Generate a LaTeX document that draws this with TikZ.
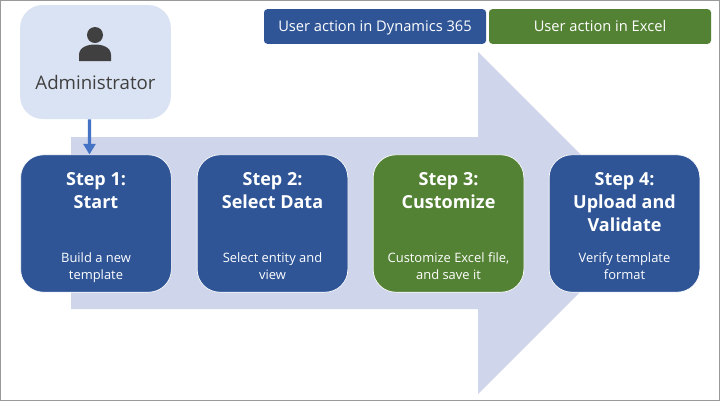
\documentclass[tikz,border=0pt]{standalone}
\usepackage{fontspec}
\setmainfont{Open Sans}
\usetikzlibrary{positioning,arrows.meta}
\definecolor{dynblue}{HTML}{2F5597}
\definecolor{xlgreen}{HTML}{548235}
\definecolor{adminfill}{HTML}{DAE3F3}
\definecolor{bigarrow}{HTML}{CFD5EA}
\definecolor{arrowblue}{HTML}{4472C4}
\definecolor{icongray}{HTML}{404040}
\tikzset{
  stepbox/.style={draw=white, line width=0.5pt, rounded corners=17pt, minimum width=113pt, minimum height=103pt, inner sep=0pt},
  steptitle/.style={text=white, font=\fontsize{13.5}{17.2}\selectfont\bfseries, align=center, inner sep=0pt},
  stepnote/.style={text=white, font=\fontsize{9.7}{12.75}\selectfont, align=center, inner sep=0pt, text depth=0pt},
  legendbox/.style={rounded corners=2.5pt, minimum width=166.5pt, minimum height=26pt, inner sep=0pt, text=white, text height=9.4pt, text depth=2.4pt, font=\fontsize{11}{13}\selectfont}
}
\begin{document}
\begin{tikzpicture}[x=0.75pt,y=-0.75pt]
\useasboundingbox (0,0) rectangle (720,401);
\fill[white] (0,0) rectangle (720,401);
\draw[gray!80, line width=1pt] (0.5,0.5) rectangle (719.5,400.5);

\fill[bigarrow] (71,137) -- (478,137) -- (478,52) -- (649,223) -- (478,394) -- (478,309) -- (71,309) -- cycle;

\node[rounded corners=17pt, fill=adminfill, minimum width=113pt, minimum height=85.5pt, inner sep=0pt] (admin) at (95.5,62) {};
\node[text=icongray, font=\fontsize{14}{17}\selectfont, inner sep=0pt] (adminlabel) at (95.5,82.5) {Administrator};
\fill[icongray] (95,35) circle (8);
\fill[icongray] (79,61) -- (79,55) .. controls (79,47) and (88,44.5) .. (95,44.5) .. controls (102,44.5) and (111,47) .. (111,55) -- (111,61) -- cycle;

\node[stepbox, fill=dynblue] (step1) at (96,223.5) {};
\node[stepbox, fill=dynblue] (step2) at (272.5,223.5) {};
\node[stepbox, fill=xlgreen] (step3) at (448.5,223.5) {};
\node[stepbox, fill=dynblue] (step4) at (624.5,223.5) {};

\node[steptitle, below=13.5pt of step1.north] (title1) {Step 1:\\Start};
\node[steptitle, below=13.5pt of step2.north] (title2) {Step 2:\\Select Data};
\node[steptitle, below=13.5pt of step3.north] (title3) {Step 3:\\Customize};
\node[steptitle, below=13.5pt of step4.north] (title4) {Step 4:\\Upload and\\Validate};

\node[stepnote, above=9.3pt of step1.south] (note1) {Build a new\\template};
\node[stepnote, above=9.3pt of step2.south] (note2) {Select entity and\\view};
\node[stepnote, above=9.3pt of step3.south] (note3) {Customize Excel file,\\and save it};
\node[stepnote, above=9.3pt of step4.south] (note4) {Verify template\\format};

\node[legendbox, fill=dynblue] (legend1) at (375,26.5) {User action in Dynamics 365};
\node[legendbox, fill=xlgreen] (legend2) at (600,26.5) {User action in Excel};

\draw[arrowblue, line width=2.4pt, -{Triangle[width=9pt,length=8pt]}] ([xshift=-4.5pt]admin.south) -- ([xshift=-4.9pt]step1.north);
\end{tikzpicture}
\end{document}
